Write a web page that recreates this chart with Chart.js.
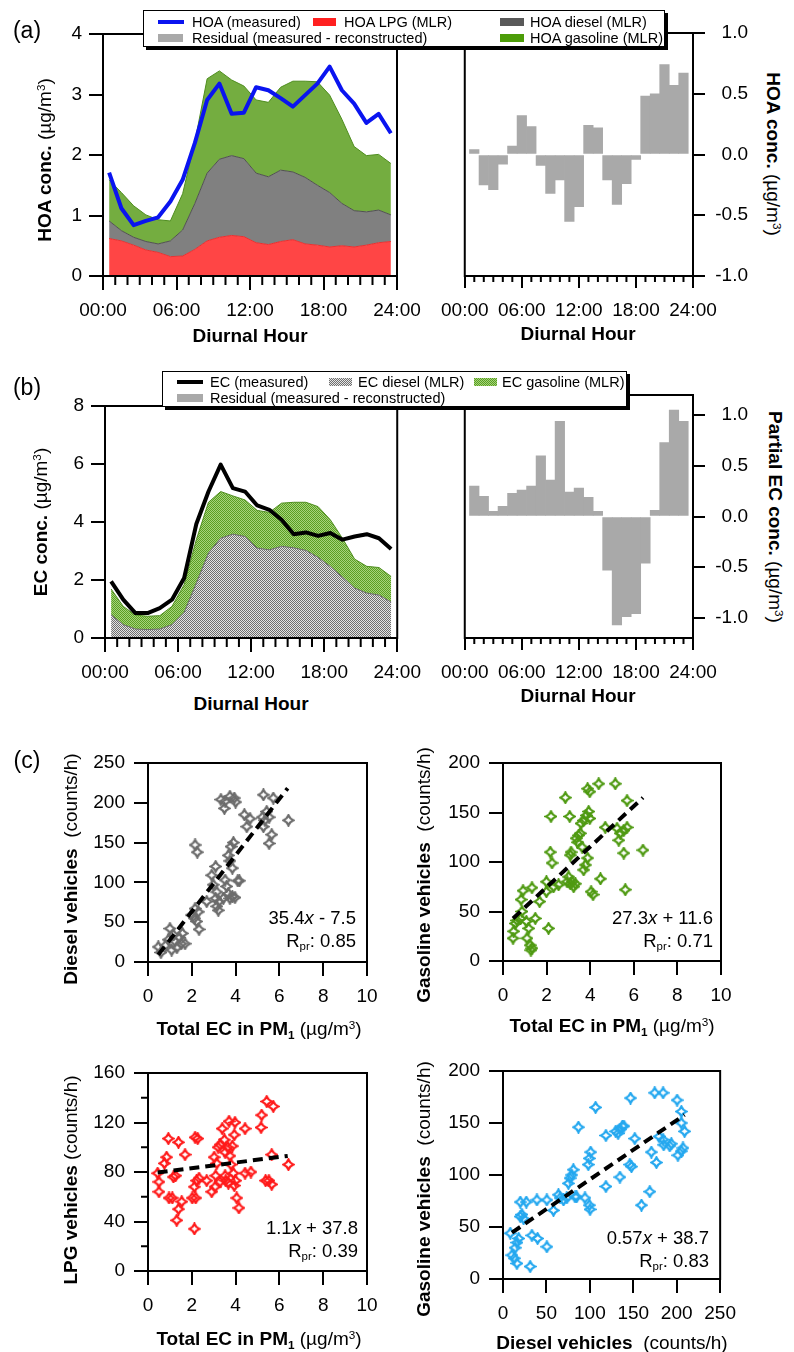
<!DOCTYPE html>
<html>
<head>
<meta charset="utf-8">
<script src="https://cdn.jsdelivr.net/npm/chart.js@4.4.1/dist/chart.umd.min.js"></script>
<style>
  body { margin: 0; background: #fff; }
  #page { position: relative; width: 794px; height: 1352px; overflow: hidden;
          font-family: "Liberation Sans", Arial, sans-serif; color: #000; }
  canvas { position: absolute; z-index: 1; }
  .t { position: absolute; white-space: nowrap; z-index: 4; line-height: 1; }
  .ax { font-size: 19px; }
  .note { font-size: 18.5px; }
  .panel { font-size: 23px; }
  .lg { font-size: 14.5px; }
  sup { font-size: 0.62em; position: relative; top: -0.55em; vertical-align: baseline; }
  sub { font-size: 0.62em; position: relative; top: 0.3em; vertical-align: baseline; }
  .box { position: absolute; background: #fff; border: 1px solid #000; box-shadow: 3px 3px 0 #000; z-index: 2; }
  .sw { position: absolute; z-index: 3; }
</style>
</head>
<body>
<div id="page"></div>
<script>
// ---------- data ----------
const hours = [0.5, 1.5, 2.5, 3.5, 4.5, 5.5, 6.5, 7.5, 8.5, 9.5, 10.5, 11.5,
               12.5, 13.5, 14.5, 15.5, 16.5, 17.5, 18.5, 19.5, 20.5, 21.5, 22.5, 23.5];
const hourTicks = [0, 6, 12, 18, 24];
const hourTickLabels = ['00:00', '06:00', '12:00', '18:00', '24:00'];
const hourMinorTicks = [1, 2, 3, 4, 5, 7, 8, 9, 10, 11, 13, 14, 15, 16, 17, 19, 20, 21, 22, 23];

// (a) HOA (ug/m3); MLR layers given as the top of each stacked layer
const hoaMeasured    = [1.71, 1.12, 0.84, 0.91, 0.97, 1.23, 1.59, 2.20, 2.91, 3.18, 2.68, 2.70,
                        3.12, 3.07, 2.94, 2.80, 2.99, 3.18, 3.46, 3.07, 2.85, 2.53, 2.68, 2.36];
const hoaLpgTop      = [0.62, 0.58, 0.51, 0.43, 0.39, 0.32, 0.33, 0.44, 0.58, 0.64, 0.67, 0.65,
                        0.55, 0.52, 0.57, 0.60, 0.53, 0.51, 0.48, 0.50, 0.48, 0.51, 0.55, 0.57];
const hoaDieselTop   = [0.91, 0.75, 0.64, 0.57, 0.53, 0.58, 0.76, 1.20, 1.70, 1.93, 1.99, 1.94,
                        1.70, 1.64, 1.75, 1.72, 1.63, 1.50, 1.38, 1.20, 1.08, 1.06, 1.09, 1.01];
const hoaGasolineTop = [1.59, 1.38, 1.16, 1.01, 0.93, 0.91, 1.36, 2.22, 3.26, 3.39, 3.24, 3.14,
                        2.91, 2.87, 3.12, 3.22, 3.22, 3.21, 2.99, 2.59, 2.14, 1.99, 2.01, 1.86];
const hoaTicks = [0, 1, 2, 3, 4];

const residualHours = [1, 2, 3, 4, 5, 6, 7, 8, 9, 10, 11, 12, 13, 14, 15, 16, 17, 18, 19, 20, 21, 22, 23];
const hoaResidual = [0.04, -0.25, -0.29, -0.08, 0.07, 0.32, 0.23, -0.09, -0.32, -0.21, -0.55, -0.43,
                     0.24, 0.22, -0.21, -0.41, -0.24, -0.04, 0.48, 0.50, 0.74, 0.57, 0.67];
const hoaResidualTicks = [-1, -0.5, 0, 0.5, 1];

// (b) EC (ug/m3)
const ecMeasured    = [1.95, 1.32, 0.86, 0.86, 1.03, 1.32, 2.07, 3.93, 5.05, 5.98, 5.17, 5.05,
                       4.57, 4.42, 4.08, 3.58, 3.64, 3.52, 3.62, 3.39, 3.50, 3.58, 3.44, 3.07];
const ecDieselTop   = [0.80, 0.46, 0.31, 0.29, 0.31, 0.46, 0.88, 1.89, 2.93, 3.44, 3.58, 3.50,
                       3.10, 3.04, 3.16, 3.11, 3.02, 2.78, 2.47, 2.10, 1.72, 1.55, 1.48, 1.24];
const ecGasolineTop = [1.69, 1.09, 0.79, 0.75, 0.77, 1.09, 1.84, 3.39, 4.68, 5.05, 4.90, 4.76,
                       4.40, 4.33, 4.65, 4.68, 4.68, 4.53, 4.08, 3.44, 2.72, 2.47, 2.43, 2.12];
const ecTicks = [0, 2, 4, 6, 8];
const ecResidual = [0.30, 0.20, 0.05, 0.10, 0.23, 0.26, 0.30, 0.60, 0.36, 0.94, 0.24, 0.28,
                    0.19, 0.05, -0.53, -1.07, -0.99, -0.96, -0.46, 0.06, 0.73, 1.05, 0.94];
const ecResidualTicks = [-1, -0.5, 0, 0.5, 1];

// (c) scatter: [x, y]
const ecVsDiesel = [[0.47,19],[0.59,12],[0.81,21],[1.00,42],[1.16,34],[1.23,26],[1.32,18],[1.42,31],[1.51,23],
  [1.57,36],[1.69,23],[1.08,15],[0.93,28],[2.15,147],[2.25,138],[2.15,67],[2.30,63],[2.12,55],[2.22,51],
  [2.33,41],[1.99,59],[2.68,76],[2.91,109],[3.09,120],[2.98,97],[3.14,88],[3.09,80],[3.24,76],[3.14,70],
  [3.21,65],[3.52,103],[3.59,95],[3.67,86],[3.44,80],[3.74,80],[3.85,82],[3.97,81],[3.67,134],[3.79,145],
  [3.90,150],[3.74,127],[3.85,118],[4.10,102],[4.17,102],[3.52,202],[3.49,193],[3.74,208],[3.94,206],
  [4.00,201],[3.33,204],[4.40,185],[4.51,170],[4.66,180],[5.27,210],[5.42,189],[5.34,178],[5.22,182],
  [5.53,182],[5.65,160],[5.53,149],[5.72,206],[6.41,178],[5.27,170]];
const ecVsGasoline = [[0.46,23],[0.49,30],[0.57,38],[0.64,41],[0.80,43],[0.87,50],[0.83,62],[0.92,71],
  [1.33,74],[1.07,40],[1.18,33],[1.10,23],[1.25,16],[1.33,13],[1.28,11],[1.48,43],[1.68,60],[2.09,33],
  [1.99,80],[2.17,110],[2.25,99],[2.20,146],[1.99,70],[2.32,75],[2.55,77],[2.86,165],[3.06,146],[2.94,80],
  [3.01,85],[3.09,107],[3.12,110],[3.17,80],[3.24,75],[3.32,78],[3.09,78],[3.36,124],[3.42,120],[3.47,127],
  [3.55,129],[3.63,115],[3.70,92],[3.78,97],[3.88,104],[3.58,139],[3.70,142],[3.82,147],[3.93,151],
  [3.98,144],[3.88,174],[3.98,171],[4.39,179],[5.15,179],[4.04,70],[4.13,67],[4.47,83],[4.69,135],
  [5.23,134],[5.31,122],[5.38,129],[5.54,132],[5.69,135],[5.69,162],[5.54,109],[5.61,72],[6.42,112]];
const ecVsLpg = [[0.44,79],[0.50,72],[0.50,64],[0.75,87],[0.85,92],[0.93,107],[1.39,104],[0.96,59],
  [1.11,59],[1.16,76],[1.26,77],[1.39,50],[1.31,41],[1.54,56],[1.69,94],[2.12,34],[2.02,59],[2.18,59],
  [2.12,68],[2.22,73],[2.33,75],[2.15,108],[2.27,107],[2.68,73],[2.91,64],[3.06,68],[3.09,77],[3.14,87],
  [3.20,100],[3.29,102],[3.39,115],[3.49,106],[3.52,96],[3.55,73],[3.64,100],[3.70,121],[3.74,93],
  [3.79,86],[3.85,101],[3.90,79],[3.94,110],[3.97,120],[4.00,73],[3.94,69],[3.52,77],[3.29,72],[3.67,71],
  [4.05,59],[4.15,51],[4.43,115],[4.43,79],[4.70,80],[5.16,116],[5.19,126],[5.42,137],[5.72,133],
  [5.65,94],[5.37,73],[5.52,73],[5.65,70],[6.41,86],[3.02,92]];
const dieselVsGasoline = [[8.4,44],[10.3,23],[13.0,20],[16.0,15],[14.1,30],[16.1,35],[18.0,39],[19.9,60],
  [21.8,62],[19.9,74],[26.8,74],[23.7,58],[33.3,42],[39.0,76],[39.8,39],[50.5,76],[50.5,31],[31.3,12],
  [58.1,66],[63.8,81],[65.7,78],[69.6,76],[73.4,78],[75.3,92],[79.1,100],[81.0,105],[77.2,97],[82.9,79],
  [84.8,79],[86.8,146],[94.4,78],[99.4,71],[100.2,67],[99.4,116],[100.9,122],[98.2,110],[106.6,165],
  [118.5,89],[118.5,138],[129.8,142],[132.5,140],[134.8,144],[137.5,147],[139.2,147],[134.6,98],
  [146.8,174],[146.0,110],[147.9,108],[151.7,135],[159.4,71],[169.0,84],[170.8,122],[176.6,112],
  [174.7,179],[184.3,179],[179.7,137],[184.3,134],[185.0,129],[192.0,128],[201.4,119],[205.3,123],
  [207.2,126],[200.4,172],[205.3,161],[205.3,150],[209.1,142],[193.8,130]];

// regression lines, end points as drawn
const fitDiesel = [[0.47, 9.1], [6.38, 218.4]];
const fitGasoline = [[0.46, 43], [6.42, 165]];
const fitLpg = [[0.44, 79.6], [6.38, 93]];
const fitDieselGasoline = [[10.3, 44.6], [209, 157.8]];

const ecAxisTicks = [0, 2, 4, 6, 8, 10];
const dieselCountTicks = [0, 50, 100, 150, 200, 250];
const gasolineCountTicks = [0, 50, 100, 150, 200];
const lpgCountTicks = [0, 40, 80, 120, 160];
const lpgMinorTicks = [20, 60, 100, 140];
const dieselAxisTicks = [0, 50, 100, 150, 200, 250];

// ---------- helpers ----------
Chart.defaults.font.family = '"Liberation Sans", Arial, sans-serif';
Chart.defaults.font.size = 19;
Chart.defaults.color = '#000';
Chart.defaults.animation = false;
Chart.defaults.events = [];
Chart.defaults.plugins.legend.display = false;
Chart.defaults.plugins.tooltip.enabled = false;

const page = document.getElementById('page');

function xy(xs, ys) { return xs.map((x, i) => ({x: x, y: ys[i]})); }
function pairs(arr) { return arr.map(p => ({x: p[0], y: p[1]})); }

// frame around the plot area plus the short minor ticks
const frame = {
  id: 'frame',
  afterDatasetsDraw(chart, args, opts) {
    const ctx = chart.ctx, a = chart.chartArea;
    ctx.save();
    ctx.strokeStyle = '#000';
    ctx.lineWidth = 2;
    ctx.strokeRect(a.left, a.top, a.right - a.left, a.bottom - a.top);
    ctx.beginPath();
    (opts.minorX || []).forEach(v => {
      const px = chart.scales.x.getPixelForValue(v);
      ctx.moveTo(px, a.bottom); ctx.lineTo(px, a.bottom + opts.minorLen);
    });
    (opts.minorY || []).forEach(v => {
      const py = chart.scales.y.getPixelForValue(v);
      ctx.moveTo(a.left - opts.minorLen, py); ctx.lineTo(a.left, py);
    });
    ctx.stroke();
    ctx.restore();
  }
};

function axis(pos, min, max, ticks, fmt, len, pad, fit) {
  return {
    type: 'linear', position: pos, min: min, max: max, offset: false,
    afterBuildTicks: s => { s.ticks = ticks.map(v => ({value: v})); },
    afterFit: s => { if (pos === 'bottom') s.height = fit; else s.width = fit; },
    ticks: {callback: fmt, padding: pad, autoSkip: false, maxRotation: 0, minRotation: 0,
            crossAlign: pos === 'right' ? 'far' : 'near', color: '#000', font: {size: 19}},
    grid: {drawOnChartArea: false, drawTicks: true, tickLength: len, lineWidth: 2, color: '#000', offset: false},
    border: {display: false}
  };
}

// cb: canvas box on the page, plot: wanted plot area on the page
function draw(cb, plot, yPos, type, datasets, xa, ya, extra) {
  const c = document.createElement('canvas');
  c.width = cb.w; c.height = cb.h;
  c.style.left = cb.l + 'px'; c.style.top = cb.t + 'px';
  c.style.width = cb.w + 'px'; c.style.height = cb.h + 'px';
  page.appendChild(c);
  const top = plot.y0 - cb.t, xh = cb.t + cb.h - plot.y1;
  const padding = yPos === 'left'
    ? {left: 0, top: top, right: cb.l + cb.w - plot.x1, bottom: 0}
    : {left: plot.x0 - cb.l, top: top, right: 0, bottom: 0};
  const yw = yPos === 'left' ? plot.x0 - cb.l : cb.l + cb.w - plot.x1;
  const ctx = c.getContext('2d');
  new Chart(ctx, {
    type: type,
    data: {datasets: typeof datasets === 'function' ? datasets(ctx) : datasets},
    options: {
      responsive: false,
      layout: {padding: padding},
      scales: {
        x: axis('bottom', xa.min, xa.max, xa.ticks, xa.fmt, xa.len, xa.pad, xh),
        y: axis(yPos, ya.min, ya.max, ya.ticks, ya.fmt, ya.len, ya.pad, yw)
      },
      plugins: {frame: extra || {}}
    },
    plugins: [frame]
  });
}

function checker(ctx, dark, light) {
  const tile = document.createElement('canvas');
  tile.width = 2; tile.height = 2;
  const g = tile.getContext('2d');
  g.fillStyle = light; g.fillRect(0, 0, 2, 2);
  g.fillStyle = dark; g.fillRect(0, 0, 1, 1); g.fillRect(1, 1, 1, 1);
  return ctx.createPattern(tile, 'repeat');
}

// Igor-like open four-point star marker
function star(color) {
  const s = 13, c = document.createElement('canvas');
  c.width = s; c.height = s;
  const g = c.getContext('2d'), m = s / 2, r = 5, k = 1.4;
  g.strokeStyle = color; g.lineWidth = 2.2; g.lineJoin = 'miter';
  g.beginPath();
  g.moveTo(m, m - r);
  g.quadraticCurveTo(m + k, m - k, m + r, m);
  g.quadraticCurveTo(m + k, m + k, m, m + r);
  g.quadraticCurveTo(m - k, m + k, m - r, m);
  g.quadraticCurveTo(m - k, m - k, m, m - r);
  g.closePath();
  g.stroke();
  return c;
}

const hourFmt = v => hourTickLabels[hourTicks.indexOf(v)];
const plain = v => String(v);
const oneDec = v => v.toFixed(1);

// ---------- (a) ----------
const area = {pointRadius: 0, tension: 0, borderJoinStyle: 'round'};
draw({l: 0, t: 0, w: 430, h: 325}, {x0: 103, y0: 34, x1: 397, y1: 276}, 'left', 'line', [
  Object.assign({data: xy(hours, hoaLpgTop), fill: 'origin', backgroundColor: '#ff4545', borderColor: '#e83030', borderWidth: 1}, area),
  Object.assign({data: xy(hours, hoaDieselTop), fill: '-1', backgroundColor: '#808080', borderColor: '#505050', borderWidth: 1}, area),
  Object.assign({data: xy(hours, hoaGasolineTop), fill: '-1', backgroundColor: '#74ad40', borderColor: '#4e8d1e', borderWidth: 1}, area),
  Object.assign({data: xy(hours, hoaMeasured), fill: false, borderColor: '#0a14f0', borderWidth: 4, order: -1}, area)
], {min: 0, max: 24, ticks: hourTicks, fmt: hourFmt, len: 14, pad: 9},
   {min: 0, max: 4, ticks: hoaTicks, fmt: plain, len: 14, pad: 7},
   {minorX: hourMinorTicks, minorLen: 9});

const bar = {backgroundColor: '#a9a9a9', borderWidth: 0, barPercentage: 1, categoryPercentage: 1};
draw({l: 430, t: 0, w: 318, h: 325}, {x0: 462, y0: 33, x1: 693, y1: 276}, 'right', 'bar', [
  Object.assign({data: xy(residualHours, hoaResidual)}, bar)
], {min: 0, max: 24, ticks: hourTicks, fmt: hourFmt, len: 12, pad: 11},
   {min: -1, max: 1, ticks: hoaResidualTicks, fmt: oneDec, len: 12, pad: 10},
   {minorX: hourMinorTicks, minorLen: 6});

// ---------- (b) ----------
draw({l: 0, t: 360, w: 430, h: 330}, {x0: 105, y0: 406, x1: 398, y1: 638}, 'left', 'line', ctx => [
  Object.assign({data: xy(hours, ecDieselTop), fill: 'origin', backgroundColor: checker(ctx, '#6f6f6f', '#e4e4e4'), borderColor: '#6a6a6a', borderWidth: 1}, area),
  Object.assign({data: xy(hours, ecGasolineTop), fill: '-1', backgroundColor: checker(ctx, '#5a9e22', '#a6d47c'), borderColor: '#4e8d1e', borderWidth: 1}, area),
  Object.assign({data: xy(hours, ecMeasured), fill: false, borderColor: '#000', borderWidth: 4, order: -1}, area)
], {min: 0, max: 24, ticks: hourTicks, fmt: hourFmt, len: 14, pad: 9},
   {min: 0, max: 8, ticks: ecTicks, fmt: plain, len: 14, pad: 7},
   {minorX: hourMinorTicks, minorLen: 9});

draw({l: 430, t: 360, w: 318, h: 330}, {x0: 462, y0: 395, x1: 693, y1: 638}, 'right', 'bar', [
  Object.assign({data: xy(residualHours, ecResidual)}, bar)
], {min: 0, max: 24, ticks: hourTicks, fmt: hourFmt, len: 12, pad: 11},
   {min: -1.2, max: 1.2, ticks: ecResidualTicks, fmt: oneDec, len: 12, pad: 10},
   {minorX: hourMinorTicks, minorLen: 6});

// ---------- (c) ----------
function scatterSets(points, fit, color) {
  return [
    {type: 'line', data: pairs(fit), showLine: true, borderColor: '#000', borderWidth: 4,
     borderDash: [10, 6], pointRadius: 0, fill: false},
    {data: pairs(points), pointStyle: star(color), pointRadius: 6}
  ];
}
draw({l: 0, t: 740, w: 390, h: 280}, {x0: 148, y0: 763, x1: 367, y1: 962}, 'left', 'scatter',
  scatterSets(ecVsDiesel, fitDiesel, '#6c6c6c'),
  {min: 0, max: 10, ticks: ecAxisTicks, fmt: plain, len: 14, pad: 9},
  {min: 0, max: 250, ticks: dieselCountTicks, fmt: plain, len: 14, pad: 9});

draw({l: 400, t: 740, w: 345, h: 280}, {x0: 503, y0: 763, x1: 721, y1: 961}, 'left', 'scatter',
  scatterSets(ecVsGasoline, fitGasoline, '#4f9a12'),
  {min: 0, max: 10, ticks: ecAxisTicks, fmt: plain, len: 14, pad: 9},
  {min: 0, max: 200, ticks: gasolineCountTicks, fmt: plain, len: 14, pad: 9});

draw({l: 0, t: 1050, w: 390, h: 280}, {x0: 148, y0: 1073, x1: 367, y1: 1271}, 'left', 'scatter',
  scatterSets(ecVsLpg, fitLpg, '#ff1a1a'),
  {min: 0, max: 10, ticks: ecAxisTicks, fmt: plain, len: 14, pad: 9},
  {min: 0, max: 160, ticks: lpgCountTicks, fmt: plain, len: 14, pad: 9},
  {minorY: lpgMinorTicks, minorLen: 7});

draw({l: 400, t: 1050, w: 345, h: 295}, {x0: 503, y0: 1071, x1: 721, y1: 1279}, 'left', 'scatter',
  scatterSets(dieselVsGasoline, fitDieselGasoline, '#25a8ef'),
  {min: 0, max: 250, ticks: dieselAxisTicks, fmt: plain, len: 14, pad: 9},
  {min: 0, max: 200, ticks: gasolineCountTicks, fmt: plain, len: 14, pad: 9});

// ---------- text ----------
function label(html, x, y, cls, rot, anchor) {
  const d = document.createElement('div');
  d.className = 't ' + cls;
  d.innerHTML = html;
  d.style.left = x + 'px';
  d.style.top = y + 'px';
  const tx = anchor === 'right' ? '-100%' : anchor === 'left' ? '0' : '-50%';
  d.style.transform = 'translate(' + tx + ',-50%)' + (rot ? ' rotate(' + rot + 'deg)' : '');
  page.appendChild(d);
}
function block(x0, x1, yc, h, bg) {
  const d = document.createElement('div');
  d.className = 'sw';
  d.style.left = x0 + 'px'; d.style.width = (x1 - x0) + 'px';
  d.style.top = (yc - h / 2) + 'px'; d.style.height = h + 'px';
  d.style.background = bg;
  page.appendChild(d);
}
function box(l, t, w, h) {
  const d = document.createElement('div');
  d.className = 'box';
  d.style.left = l + 'px'; d.style.top = t + 'px';
  d.style.width = w + 'px'; d.style.height = h + 'px';
  page.appendChild(d);
}
function tileUrl(dark, light) {
  const t = document.createElement('canvas');
  t.width = 2; t.height = 2;
  const g = t.getContext('2d');
  g.fillStyle = light; g.fillRect(0, 0, 2, 2);
  g.fillStyle = dark; g.fillRect(0, 0, 1, 1); g.fillRect(1, 1, 1, 1);
  return 'url(' + t.toDataURL() + ')';
}

const ugm3 = ' (µg/m<sup>3</sup>)';
label('(a)', 27, 30, 'panel');
label('(b)', 27, 387, 'panel');
label('(c)', 27, 760, 'panel');

label('<b>HOA conc.</b>' + ugm3, 44, 160, 'ax', -90);
label('<b>HOA conc.</b>' + ugm3, 773, 154, 'ax', 90);
label('<b>EC conc.</b>' + ugm3, 40, 522, 'ax', -90);
label('<b>Partial EC conc.</b>' + ugm3, 775, 517, 'ax', 90);
label('<b>Diurnal Hour</b>', 250, 335, 'ax');
label('<b>Diurnal Hour</b>', 578, 333, 'ax');
label('<b>Diurnal Hour</b>', 251, 703, 'ax');
label('<b>Diurnal Hour</b>', 578, 695, 'ax');

label('<b>Diesel vehicles</b>&nbsp; (counts/h)', 70, 869, 'ax', -90);
label('<b>Gasoline vehicles</b>&nbsp; (counts/h)', 423, 875, 'ax', -90);
label('<b>LPG vehicles</b> (counts/h)', 70, 1180, 'ax', -90);
label('<b>Gasoline vehicles</b>&nbsp; (counts/h)', 423, 1189, 'ax', -90);
label('<b>Total EC in PM<sub>1</sub></b>' + ugm3, 259, 1028, 'ax');
label('<b>Total EC in PM<sub>1</sub></b>' + ugm3, 612, 1025, 'ax');
label('<b>Total EC in PM<sub>1</sub></b>' + ugm3, 259, 1338, 'ax');
label('<b>Diesel vehicles</b>&nbsp; (counts/h)', 612, 1342, 'ax');

label('35.4<i>x</i> - 7.5', 356, 918, 'note', 0, 'right');
label('R<sub>pr</sub>: 0.85', 356, 941, 'note', 0, 'right');
label('27.3<i>x</i> + 11.6', 713, 918, 'note', 0, 'right');
label('R<sub>pr</sub>: 0.71', 713, 941, 'note', 0, 'right');
label('1.1<i>x</i> + 37.8', 358, 1228, 'note', 0, 'right');
label('R<sub>pr</sub>: 0.39', 358, 1251, 'note', 0, 'right');
label('0.57<i>x</i> + 38.7', 709, 1238, 'note', 0, 'right');
label('R<sub>pr</sub>: 0.83', 709, 1261, 'note', 0, 'right');

// legend (a)
box(143, 10, 520, 35);
block(158, 184, 21.5, 4, '#0a14f0');
label('HOA (measured)', 192, 21.5, 'lg', 0, 'left');
block(313, 336, 21.5, 8, '#ff2020');
label('HOA LPG (MLR)', 344, 21.5, 'lg', 0, 'left');
block(500, 524, 21.5, 8, '#595959');
label('HOA diesel (MLR)', 530, 21.5, 'lg', 0, 'left');
block(158, 183, 37.5, 8, '#a9a9a9');
label('Residual (measured - reconstructed)', 192, 37.5, 'lg', 0, 'left');
block(500, 524, 37.5, 8, '#4c9c08');
label('HOA gasoline (MLR)', 530, 37.5, 'lg', 0, 'left');

// legend (b)
box(162, 371, 463, 34);
block(177, 203, 382, 4, '#000');
label('EC (measured)', 210, 382, 'lg', 0, 'left');
block(329, 352, 382, 8, tileUrl('#6f6f6f', '#e4e4e4'));
label('EC diesel (MLR)', 358, 382, 'lg', 0, 'left');
block(474, 497, 382, 8, tileUrl('#5a9e22', '#a6d47c'));
label('EC gasoline (MLR)', 502, 382, 'lg', 0, 'left');
block(177, 203, 398, 8, '#a9a9a9');
label('Residual (measured - reconstructed)', 210, 398, 'lg', 0, 'left');
</script>
</body>
</html>
